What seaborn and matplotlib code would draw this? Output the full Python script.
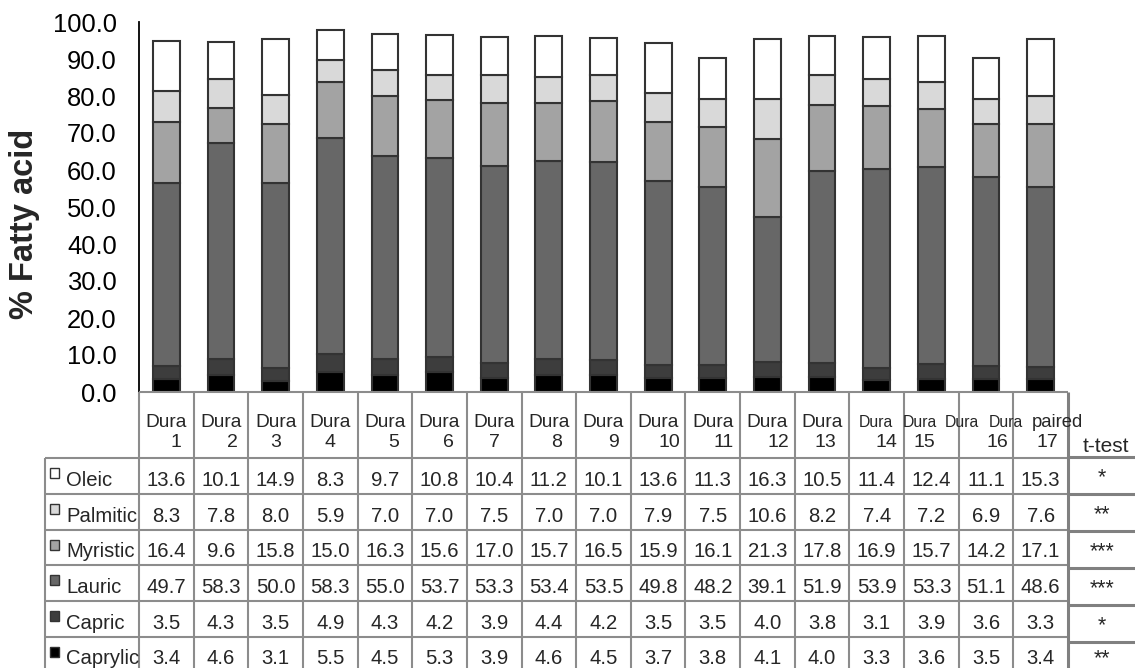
import matplotlib
matplotlib.use("Agg")
import matplotlib.pyplot as plt
from matplotlib.patches import Rectangle
import numpy as np
import seaborn as sns

# ---- data -------------------------------------------------------------
samples = [f"Dura {i}" for i in range(1, 18)]
acids = ["Oleic", "Palmitic", "Myristic", "Lauric", "Capric", "Caprylic"]
oleic = [13.6, 10.1, 14.9, 8.3, 9.7, 10.8, 10.4, 11.2, 10.1, 13.6, 11.3, 16.3, 10.5, 11.4, 12.4, 11.1, 15.3]
palmitic = [8.3, 7.8, 8.0, 5.9, 7.0, 7.0, 7.5, 7.0, 7.0, 7.9, 7.5, 10.6, 8.2, 7.4, 7.2, 6.9, 7.6]
myristic = [16.4, 9.6, 15.8, 15.0, 16.3, 15.6, 17.0, 15.7, 16.5, 15.9, 16.1, 21.3, 17.8, 16.9, 15.7, 14.2, 17.1]
lauric = [49.7, 58.3, 50.0, 58.3, 55.0, 53.7, 53.3, 53.4, 53.5, 49.8, 48.2, 39.1, 51.9, 53.9, 53.3, 51.1, 48.6]
capric = [3.5, 4.3, 3.5, 4.9, 4.3, 4.2, 3.9, 4.4, 4.2, 3.5, 3.5, 4.0, 3.8, 3.1, 3.9, 3.6, 3.3]
caprylic = [3.4, 4.6, 3.1, 5.5, 4.5, 5.3, 3.9, 4.6, 4.5, 3.7, 3.8, 4.1, 4.0, 3.3, 3.6, 3.5, 3.4]
ttest = ["*", "**", "***", "***", "*", "**"]
yticks = [0, 10, 20, 30, 40, 50, 60, 70, 80, 90, 100]

series = {"Oleic": oleic, "Palmitic": palmitic, "Myristic": myristic,
          "Lauric": lauric, "Capric": capric, "Caprylic": caprylic}
colors = {"Oleic": "#ffffff", "Palmitic": "#d9d9d9", "Myristic": "#a3a3a3",
          "Lauric": "#676767", "Capric": "#3d3d3d", "Caprylic": "#000000"}

# ---- layout (pixels) --------------------------------------------------
W_PX, H_PX = 1135, 668
X0, X1 = 139, 1068          # plot / table column span
Y0, Y100 = 392, 22          # value axis 0 and 100
COLW = (X1 - X0) / len(samples)
LEG_X = 45                  # left edge of the row-label column
ROW_TOP = 458.3
ROW_H = 35.7
T_ROW_TOP = 457
T_ROW_H = 37
GRID = "#8c8c8c"
EDGE = "#333333"

sns.set_theme(style="white")
plt.rcParams["font.family"] = ["Liberation Sans", "DejaVu Sans"]

fig = plt.figure(figsize=(W_PX / 100, H_PX / 100), dpi=100)
ax = fig.add_axes([X0 / W_PX, (H_PX - Y0) / H_PX, (X1 - X0) / W_PX, (Y0 - Y100) / H_PX])

# stacked bars, bottom layer first
bottom = np.zeros(len(samples))
for name in acids[::-1]:
    vals = np.array(series[name])
    sns.barplot(x=samples, y=vals, bottom=bottom.copy(), color=colors[name],
                saturation=1, edgecolor=EDGE, linewidth=1.5, width=0.49, ax=ax)
    bottom += vals

ax.set_xlim(-0.5, len(samples) - 0.5)
ax.set_ylim(0, 100)
ax.set_yticks(yticks)
ax.set_yticklabels([f"{v:.1f}" for v in yticks])
ax.set_xticks([])
ax.set_xlabel("")
ax.set_ylabel("")
ax.tick_params(axis="y", length=0, pad=16, labelsize=18.4, labelcolor="black")
for s in ["top", "right", "bottom"]:
    ax.spines[s].set_visible(False)
ax.spines["left"].set_color("black")
ax.spines["left"].set_linewidth(1.3)
ax.patch.set_alpha(0)

fig.text(25 / W_PX, 1 - 224 / H_PX, "% Fatty acid", rotation=90, fontsize=23.5,
         fontweight="bold", ha="center", va="center")

# ---- data table below the bars ---------------------------------------
tab = fig.add_axes([0, 0, 1, 1])
tab.set_xlim(0, W_PX)
tab.set_ylim(H_PX, 0)
tab.axis("off")

col_edges = [X0 + k * COLW for k in range(len(samples) + 1)]
centers = [X0 + (k + 0.5) * COLW for k in range(len(samples))]
row_tops = [ROW_TOP + i * ROW_H for i in range(len(acids))]

# grid lines
tab.hlines(Y0, X0, X1, color=GRID, lw=1.5)
tab.vlines(col_edges[:-1], Y0, H_PX, color=GRID, lw=1.5)
tab.vlines([LEG_X], ROW_TOP, H_PX, color=GRID, lw=1.5)
tab.hlines(row_tops, LEG_X, X1, color=GRID, lw=1.5)
tab.vlines([X1], Y0, H_PX, color="#808080", lw=2.2)
tab.hlines([T_ROW_TOP + i * T_ROW_H for i in range(len(acids))], X1, W_PX,
           color="#808080", lw=2.2)

# column headers
dura_dx = [0, 0, 0, 0, 0, 0, 0, 0, 0, 0, 0, 0, 0, -1, -12, -24, -35]
num_dx = [10, 11, 0, 0, 9, 9, 0, 8, 10, 11, 10.5, 10.5, 3, 10, -7, 11.5, 7]
for k, c in enumerate(centers):
    word, num = samples[k].split(" ")
    small = k >= 13
    tab.text(c + dura_dx[k], 427, word, ha="center", va="baseline",
             fontsize=11.3 if small else 13.8)
    tab.text(c + num_dx[k], 447, num, ha="center", va="baseline", fontsize=14)
tab.text(1057, 427, "paired", ha="center", va="baseline", fontsize=13.3)
tab.text(1106, 452, "t-test", ha="center", va="baseline", fontsize=15)

# rows: legend key, label, values and significance
for i, name in enumerate(acids):
    top = row_tops[i]
    tab.add_patch(Rectangle((50, top + 10), 8.5, 10, facecolor=colors[name],
                            edgecolor=EDGE, lw=1.0))
    tab.text(66, top + 27.5, name, ha="left", va="baseline", fontsize=14.6)
    for k, c in enumerate(centers):
        tab.text(c, top + 27.5, f"{series[name][k]:.1f}", ha="center",
                 va="baseline", fontsize=14.6)
    tcen = T_ROW_TOP + (i + 0.5) * T_ROW_H
    star_y = min(tcen + 8, 664)
    tab.text(1102, star_y, ttest[i], ha="center", va="baseline", fontsize=15.5)

fig.savefig("out.png", dpi=100)
